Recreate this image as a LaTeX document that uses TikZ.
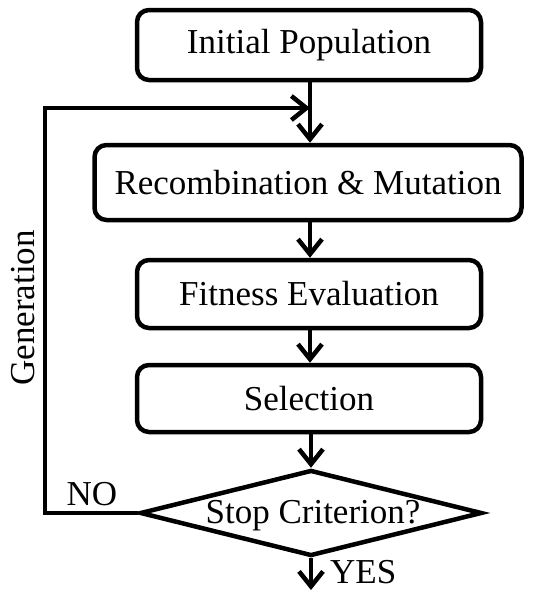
\documentclass[tikz,border=0pt]{standalone}
\usepackage{fontspec}
\setmainfont{Liberation Serif}
\usetikzlibrary{arrows.meta,shapes.geometric}
\begin{document}
\begin{tikzpicture}[x=1pt,y=-1pt,
  box/.style={draw,line width=4.5pt,rounded corners=12pt,inner sep=0pt,font=\fontsize{35}{40}\selectfont},
  lbl/.style={inner sep=0pt,font=\fontsize{35}{40}\selectfont},
  tip/.style={-{Straight Barb[length=15pt,width=24pt,line width=4.5pt]}},
  arr/.style={line width=4.5pt,tip},
  ln/.style={line width=4.5pt}]
\useasboundingbox (0,0) rectangle (543,592);
\node[box,minimum width=344pt,minimum height=70pt] (init) at (309,45) {Initial Population};
\node[box,minimum width=427pt,minimum height=75pt] (rec) at (308,182.5) {Recombination \& Mutation};
\node[box,minimum width=344pt,minimum height=68pt] (fit) at (309,294) {Fitness Evaluation};
\node[box,minimum width=344pt,minimum height=67pt] (sel) at (309,398.5) {Selection};
\node[draw,line width=4.5pt,diamond,aspect=3.9,inner sep=0pt,minimum width=342pt,minimum height=86pt] (stop) at (311,513) {};
\node[lbl] (stoptxt) at (313,516) {Stop Criterion?};
\coordinate (merge) at (310,108);
\coordinate (corner1) at (45,513);
\coordinate (corner2) at (45,108);
\coordinate (out) at (311,590);
\draw[arr] (init.south -| merge) -- (rec.north -| merge);
\draw[arr] (rec.south -| merge) -- (fit.north -| merge);
\draw[arr] (fit.south -| merge) -- (sel.north -| merge);
\draw[arr] (sel.south -| stop) -- (stop.north);
\draw[arr] (stop.south) -- (out);
\draw[ln,tip] (stop.west) -- (corner1) -- (corner2) -- (merge);
\node[lbl] (no) at (92,494) {NO};
\node[lbl,anchor=west] (yes) at (330,572) {YES};
\node[lbl,rotate=90] (gen) at (23,308) {Generation};
\end{tikzpicture}
\end{document}
